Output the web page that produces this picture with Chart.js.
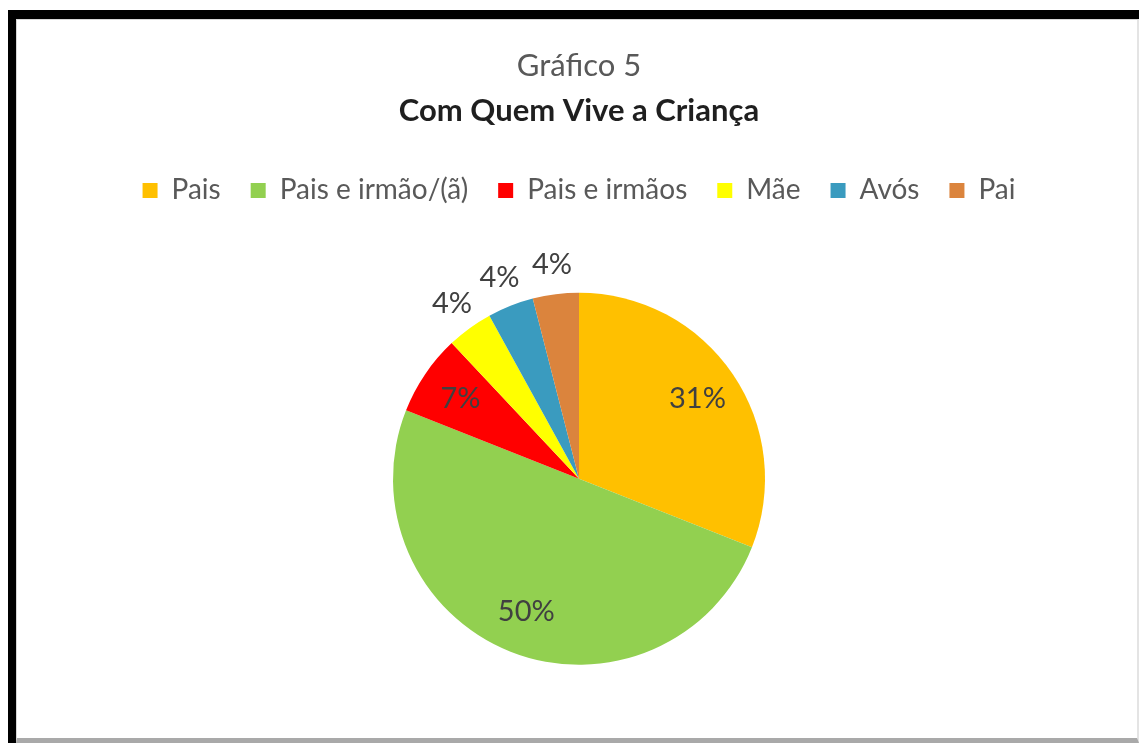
<!DOCTYPE html>
<html>
<head>
<meta charset="utf-8">
<script src="https://cdn.jsdelivr.net/npm/chart.js@4/dist/chart.umd.min.js"></script>
<style>
  html, body { margin: 0; padding: 0; background: #fff; }
  body { width: 1139px; height: 743px; position: relative; overflow: hidden; }
  #frame {
    position: absolute; left: 8px; top: 10px; width: 1131px; height: 733px;
    box-sizing: border-box; border-top: 9px solid #000; border-left: 8px solid #000;
  }
  #inner {
    position: absolute; left: 0; top: 0; right: 0; bottom: 0;
    box-sizing: border-box; border-top: 1px solid #d6d6d6; border-left: 1px solid #d6d6d6;
    border-right: 2px solid #e4e4e4; border-bottom: 5px solid #a9a9a9;
  }
  #wrap { position: absolute; left: 0; top: 0; width: 1139px; height: 743px; }
</style>
</head>
<body>
<div id="frame"><div id="inner"></div></div>
<div id="wrap"><canvas id="chart"></canvas></div>
<script>
const labels = ['Pais', 'Pais e irmão/(ã)', 'Pais e irmãos', 'Mãe', 'Avós', 'Pai'];
const percentages = [31, 50, 7, 4, 4, 4];
const sliceColors = ['#FFC000', '#92D050', '#FF0000', '#FFFF00', '#3A9BBF', '#DB843D'];

const FONT = 'Lato, "Open Sans", sans-serif';

// percentage labels: big slices inside, thin ones just outside the rim
const pctLabels = {
  id: 'pctLabels',
  afterDatasetsDraw(chart) {
    const { ctx } = chart;
    const meta = chart.getDatasetMeta(0);
    const values = chart.data.datasets[0].data;
    ctx.save();
    ctx.font = '29px ' + FONT;
    ctx.fillStyle = '#404040';
    ctx.textAlign = 'center';
    ctx.textBaseline = 'middle';
    meta.data.forEach((arc, i) => {
      const { x, y, startAngle, endAngle, outerRadius } = arc.getProps(['x', 'y', 'startAngle', 'endAngle', 'outerRadius'], true);
      const mid = (startAngle + endAngle) / 2;
      const r = values[i] >= 5 ? outerRadius * 0.77 : outerRadius + 30;
      ctx.fillText(values[i] + '%', x + Math.cos(mid) * r, y + Math.sin(mid) * r);
    });
    ctx.restore();
  }
};

new Chart(document.getElementById('chart'), {
  type: 'pie',
  data: {
    labels,
    datasets: [{ data: percentages, backgroundColor: sliceColors, borderWidth: 0, radius: 186 }],
  },
  options: {
    responsive: true, maintainAspectRatio: false, animation: false,
    layout: { padding: { left: 19, right: 0, bottom: 0 } },
    plugins: {
      title: {
        display: true, text: 'Gráfico 5', color: '#595959',
        font: { family: FONT, size: 31, weight: 'normal' },
        padding: { top: 47, bottom: 8 },
      },
      subtitle: {
        display: true, text: 'Com Quem Vive a Criança', color: '#1f1f1f',
        font: { family: FONT, size: 31, weight: 'bold' },
        padding: { top: 0, bottom: 17 },
      },
      legend: {
        position: 'top',
        labels: { boxWidth: 15, boxHeight: 15, padding: 30, color: '#595959', font: { family: FONT, size: 28 } },
      },
      tooltip: { enabled: false },
    },
  },
  plugins: [pctLabels],
});
</script>
</body>
</html>
